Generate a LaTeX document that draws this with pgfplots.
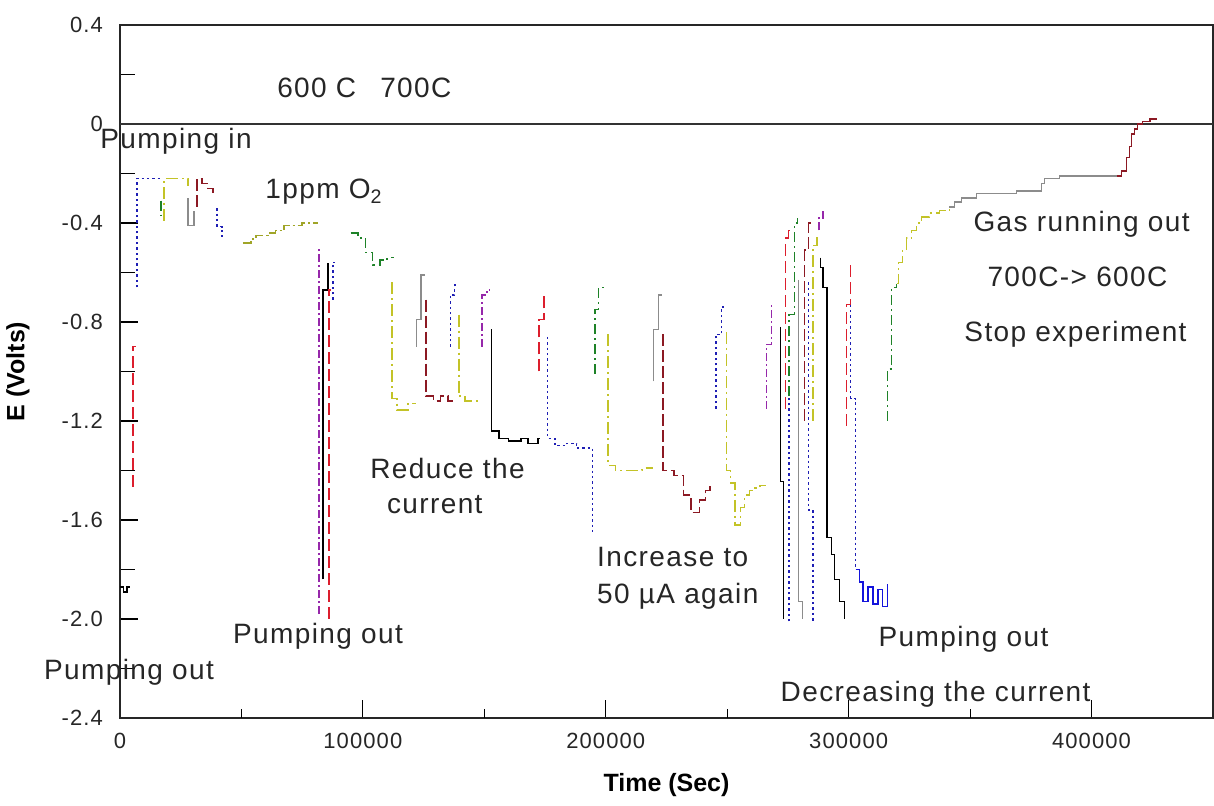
\documentclass[border=0pt]{standalone}
\usepackage{fontspec}
\setmainfont{Liberation Sans}
\newfontfamily\annfont{Liberation Sans}[LetterSpace=5]
\usepackage{pgfplots}
\pgfplotsset{compat=1.18}
\definecolor{cRed}{RGB}{220,30,45}
\definecolor{cBlue}{RGB}{30,30,180}
\definecolor{cBlueS}{RGB}{20,20,220}
\definecolor{cGreen}{RGB}{30,130,40}
\definecolor{cYellow}{RGB}{195,195,40}
\definecolor{cOlive}{RGB}{160,165,40}
\definecolor{cGray}{RGB}{140,140,140}
\definecolor{cMaroon}{RGB}{140,25,35}
\definecolor{cPurple}{RGB}{150,40,170}
\tikzset{
 sBlack/.style={black, solid},
 sRed/.style={cRed, dash pattern=on 6pt off 2.5pt},
 sBlue/.style={cBlue, dash pattern=on 1.2pt off 1.5pt},
 sBlueS/.style={cBlueS, solid},
 sGreen/.style={cGreen, dash pattern=on 5pt off 2pt on 1pt off 2pt},
 sYellow/.style={cYellow, dash pattern=on 6pt off 2pt on 1pt off 2pt},
 sOlive/.style={cOlive, dash pattern=on 5pt off 1.5pt on 1pt off 1.5pt},
 sGray/.style={cGray, solid},
 sMaroon/.style={cMaroon, dash pattern=on 6pt off 2pt},
 sMaroonS/.style={cMaroon, solid},
 sPurple/.style={cPurple, dash pattern=on 4pt off 1.5pt on 1pt off 1.5pt},
 ann/.style={font=\annfont\fontsize{14}{16}\selectfont, text=black!85, inner sep=0pt},
}
\begin{document}
\begin{tikzpicture}
\begin{axis}[
 scale only axis, width=546.5pt, height=346.5pt,
 xmin=0, xmax=450000, ymin=-2.4, ymax=0.4,
 clip=false,
 scaled x ticks=false, scaled y ticks=false,
 axis line style={line width=0.6pt, black!85},
 tick align=inside, xtick pos=bottom, ytick pos=left,
 xtick={0,100000,200000,300000,400000},
 xticklabels={0,100000,200000,300000,400000},
 extra x ticks={50000,150000,250000,350000},
 extra x tick labels={},
 extra x tick style={major tick length=4.5pt},
 ytick={0.4,0,-0.4,-0.8,-1.2,-1.6,-2.0,-2.4},
 yticklabels={0.4,0,-0.4,-0.8,-1.2,-1.6,-2.0,-2.4},
 minor ytick={0.2,-0.2,-0.6,-1.0,-1.4,-1.8,-2.2},
 major tick length=9pt, minor tick length=7.5pt,
 every tick/.style={black, line width=0.6pt},
 ticklabel style={font=\annfont\fontsize{11}{13}\selectfont, text=black!85},
 xticklabel style={yshift=-4pt},
 yticklabel style={xshift=-5pt},
 xlabel={Time (Sec)}, ylabel={E (Volts)},
 label style={font=\bfseries\fontsize{12.5}{15}\selectfont},
 xlabel style={at={(axis description cs:0.5,-0.0967)}, anchor=center},
 ylabel style={at={(axis description cs:-0.0933,0.5)}, anchor=center},
 every axis plot/.append style={line width=0.75pt, no markers},
]
% zero line
\addplot[black!80, line width=0.7pt] coordinates {(0,0) (450000,0)};
% early segments
\addplot[sBlack] coordinates {(0,-1.87)(1500,-1.87)(1500,-1.89)(2800,-1.89)(2800,-1.87)(4000,-1.87)};
\addplot[sRed] coordinates {(5300,-1.465)(5300,-0.90)(6500,-0.90)};
\addplot[sBlue] coordinates {(7000,-0.66)(7000,-0.22)(17700,-0.22)};
\addplot[sGreen] coordinates {(16900,-0.31)(16900,-0.37)};
\addplot[sYellow] coordinates {(18100,-0.39)(18100,-0.22)(28000,-0.22)(28000,-0.25)};
\addplot[sGray] coordinates {(28000,-0.30)(28000,-0.41)(30500,-0.41)(30500,-0.35)};
\addplot[sMaroon] coordinates {(31700,-0.335)(31700,-0.22)(33700,-0.22)(33700,-0.24)(36000,-0.24)(36000,-0.26)(38300,-0.26)(38300,-0.28)};
\addplot[sBlue] coordinates {(39900,-0.34)(39900,-0.415)(42000,-0.415)(42000,-0.455)};
\addplot[sOlive] coordinates {(50600,-0.48)(54000,-0.48)(54000,-0.465)(56000,-0.465)(56000,-0.45)(61000,-0.45)(61000,-0.44)(64000,-0.44)(64000,-0.43)(67500,-0.43)(67500,-0.41)(75000,-0.41)(75000,-0.40)(81500,-0.40)};
\addplot[sPurple] coordinates {(81900,-1.98)(81900,-0.50)};
\addplot[sBlack] coordinates {(83500,-1.84)(83500,-0.67)(85600,-0.67)(85600,-0.56)};
\addplot[sRed] coordinates {(86000,-2.0)(86000,-0.67)(87000,-0.67)};
\addplot[sBlue] coordinates {(87600,-0.71)(87600,-0.56)(88500,-0.56)};
\addplot[sGreen] coordinates {(95000,-0.44)(98000,-0.44)(98000,-0.46)(101000,-0.46)(101000,-0.52)(104000,-0.52)(104000,-0.57)(107000,-0.57)(107000,-0.55)(110000,-0.55)(110000,-0.54)(113000,-0.54)};
\addplot[sYellow] coordinates {(112000,-0.64)(112000,-1.11)(114000,-1.11)(114000,-1.155)(118500,-1.155)(118500,-1.13)(122000,-1.13)};
\addplot[sGray] coordinates {(122000,-0.90)(122000,-0.79)(124000,-0.79)(124000,-0.61)(125500,-0.61)};
\addplot[sMaroon] coordinates {(126000,-0.71)(126000,-1.10)(129000,-1.10)(129000,-1.12)(132000,-1.12)(132000,-1.10)(135000,-1.10)(135000,-1.12)(137000,-1.12)};
\addplot[sBlue] coordinates {(136000,-0.90)(136000,-0.69)(137800,-0.69)(137800,-0.65)(138500,-0.65)};
\addplot[sYellow] coordinates {(139500,-0.77)(139500,-1.10)(142000,-1.10)(142000,-1.12)(149000,-1.12)};
\addplot[sPurple] coordinates {(149000,-0.90)(149000,-0.69)(151000,-0.69)(151000,-0.67)(152000,-0.67)};
\addplot[sBlack] coordinates {(153000,-0.83)(153000,-1.24)(156000,-1.24)(156000,-1.27)(160000,-1.27)(160000,-1.28)(165000,-1.28)(165000,-1.27)(168000,-1.27)(168000,-1.29)(172000,-1.29)(172000,-1.27)(173000,-1.27)};
\addplot[sRed] coordinates {(172500,-1.00)(172500,-0.79)(174500,-0.79)(174500,-0.69)};
\addplot[sBlue] coordinates {(176000,-0.86)(176000,-1.27)(179000,-1.27)(179000,-1.30)(184000,-1.30)(184000,-1.29)(188000,-1.29)(188000,-1.31)(194500,-1.31)(194500,-1.66)};
\addplot[sGreen] coordinates {(195500,-1.01)(195500,-0.75)(197000,-0.75)(197000,-0.66)(199500,-0.66)};
\addplot[sYellow] coordinates {(201000,-0.85)(201000,-1.38)(204000,-1.38)(204000,-1.40)(215000,-1.40)(215000,-1.39)(219500,-1.39)};
\addplot[sGray] coordinates {(219700,-1.04)(219700,-0.83)(221800,-0.83)(221800,-0.69)(223000,-0.69)};
\addplot[sMaroon] coordinates {(223500,-0.85)(223500,-1.40)(228000,-1.40)(228000,-1.42)(232000,-1.42)(232000,-1.50)(235000,-1.50)(235000,-1.57)(238500,-1.57)(238500,-1.52)(241000,-1.52)(241000,-1.48)(243000,-1.48)(243000,-1.46)};
\addplot[sBlue] coordinates {(245300,-1.15)(245300,-0.85)(247700,-0.85)(247700,-0.74)(248500,-0.74)};
\addplot[sYellow] coordinates {(249800,-0.84)(249800,-1.40)(251400,-1.40)(251400,-1.45)(253100,-1.45)(253100,-1.62)(255500,-1.62)(255500,-1.55)(257200,-1.55)(257200,-1.50)(259200,-1.50)(259200,-1.48)(261300,-1.48)(261300,-1.47)(263400,-1.47)(263400,-1.46)(266000,-1.46)};
\addplot[sPurple] coordinates {(266200,-1.15)(266200,-0.89)(268300,-0.89)(268300,-0.73)(269500,-0.73)};
\addplot[sBlack] coordinates {(272000,-0.82)(272000,-1.445)(273200,-1.445)(273200,-2.0)};
\addplot[sRed] coordinates {(274000,-1.15)(274000,-0.46)(275300,-0.46)(275300,-0.43)(276000,-0.43)};
\addplot[sBlue] coordinates {(275500,-2.01)(275500,-1.10)};
\addplot[sGreen] coordinates {(275500,-1.10)(275500,-0.77)(277800,-0.77)(277800,-0.40)(279000,-0.40)(279000,-0.38)};
\addplot[sGray] coordinates {(279400,-0.63)(279400,-1.93)(281000,-1.93)(281000,-2.0)};
\addplot[sMaroon] coordinates {(281900,-1.20)(281900,-0.51)(283500,-0.51)(283500,-0.40)(284500,-0.40)};
\addplot[sBlue] coordinates {(283500,-0.64)(283500,-1.56)(285300,-1.56)(285300,-2.01)};
\addplot[sYellow] coordinates {(285300,-1.20)(285300,-0.49)(287000,-0.49)(287000,-0.45)(287700,-0.45)};
\addplot[sPurple] coordinates {(287700,-0.43)(287700,-0.38)(289500,-0.38)(289500,-0.34)};
\addplot[sBlack] coordinates {(288500,-0.54)(288500,-0.58)(289500,-0.58)(289500,-0.66)(291000,-0.66)(291000,-1.67)(293000,-1.67)(293000,-1.74)(294200,-1.74)(294200,-1.84)(296300,-1.84)(296300,-1.93)(298300,-1.93)(298300,-2.0)};
\addplot[sRed] coordinates {(299200,-1.22)(299200,-0.73)(300800,-0.73)(300800,-0.56)};
\addplot[sBlue] coordinates {(300800,-0.73)(300800,-1.11)(302900,-1.11)(302900,-1.80)};
\addplot[sBlueS] coordinates {(302900,-1.80)(304500,-1.80)(304500,-1.85)(306000,-1.85)(306000,-1.93)(308000,-1.93)(308000,-1.87)(310000,-1.87)(310000,-1.94)(312000,-1.94)(312000,-1.88)(314000,-1.88)(314000,-1.95)(316000,-1.95)(316000,-1.86)};
\addplot[sGreen] coordinates {(316000,-1.20)(316000,-0.99)(317700,-0.99)(317700,-0.66)(319700,-0.66)(319700,-0.645)};
\addplot[sYellow] coordinates {(319700,-0.645)(320500,-0.645)(320500,-0.56)(322200,-0.56)(322200,-0.505)(323900,-0.505)(323900,-0.46)(325900,-0.46)(325900,-0.43)(328000,-0.43)(328000,-0.40)(330000,-0.40)(330000,-0.375)(333300,-0.375)(333300,-0.36)(337400,-0.36)(337400,-0.35)(341500,-0.35)(341500,-0.335)};
\addplot[sGray] coordinates {(341500,-0.335)(343600,-0.335)(343600,-0.315)(346500,-0.315)(346500,-0.30)(352700,-0.30)(352700,-0.28)(369100,-0.28)(369100,-0.27)(379400,-0.27)(379400,-0.24)(380600,-0.24)(380600,-0.22)(386800,-0.22)(386800,-0.21)(410300,-0.21)};
\addplot[sMaroonS] coordinates {(410300,-0.21)(412300,-0.21)(412300,-0.19)(414400,-0.19)(414400,-0.135)(415600,-0.135)(415600,-0.09)(416400,-0.09)(416400,-0.04)(417700,-0.04)(417700,-0.02)(418900,-0.02)(418900,0.0)(421000,0.0)(421000,0.01)(424000,0.01)(424000,0.02)(427100,0.02)};
% annotations
\node[ann, anchor=base west] at (axis cs:-8230,-0.101) {Pumping in};
\node[ann, anchor=base west] at (axis cs:64600,0.109) {600 C};
\node[ann, anchor=base west] at (axis cs:107000,0.109) {700C};
\node[ann, anchor=base west] at (axis cs:59700,-0.303) {1ppm O\textsubscript{2}};
\node[ann, anchor=base west] at (axis cs:102900,-1.433) {Reduce the};
\node[ann, anchor=base] at (axis cs:129600,-1.575) {current};
\node[ann, anchor=base west] at (axis cs:196300,-1.788) {Increase to};
\node[ann, anchor=base west] at (axis cs:196300,-1.938) {50 µA again};
\node[ann, anchor=base] at (axis cs:81500,-2.099) {Pumping out};
\node[ann, anchor=base] at (axis cs:3700,-2.245) {Pumping out};
\node[ann, anchor=base] at (axis cs:347300,-2.111) {Pumping out};
\node[ann, anchor=base] at (axis cs:335800,-2.333) {Decreasing the current};
\node[ann, anchor=base] at (axis cs:395900,-0.436) {Gas running out};
\node[ann, anchor=base] at (axis cs:394200,-0.658) {700C-> 600C};
\node[ann, anchor=base] at (axis cs:393400,-0.880) {Stop experiment};
\end{axis}
\pgfresetboundingbox
\path[use as bounding box] ([xshift=-60pt,yshift=-44pt]current axis.south west) rectangle ([xshift=0.5pt,yshift=12.5pt]current axis.north east);
\end{tikzpicture}
\end{document}
